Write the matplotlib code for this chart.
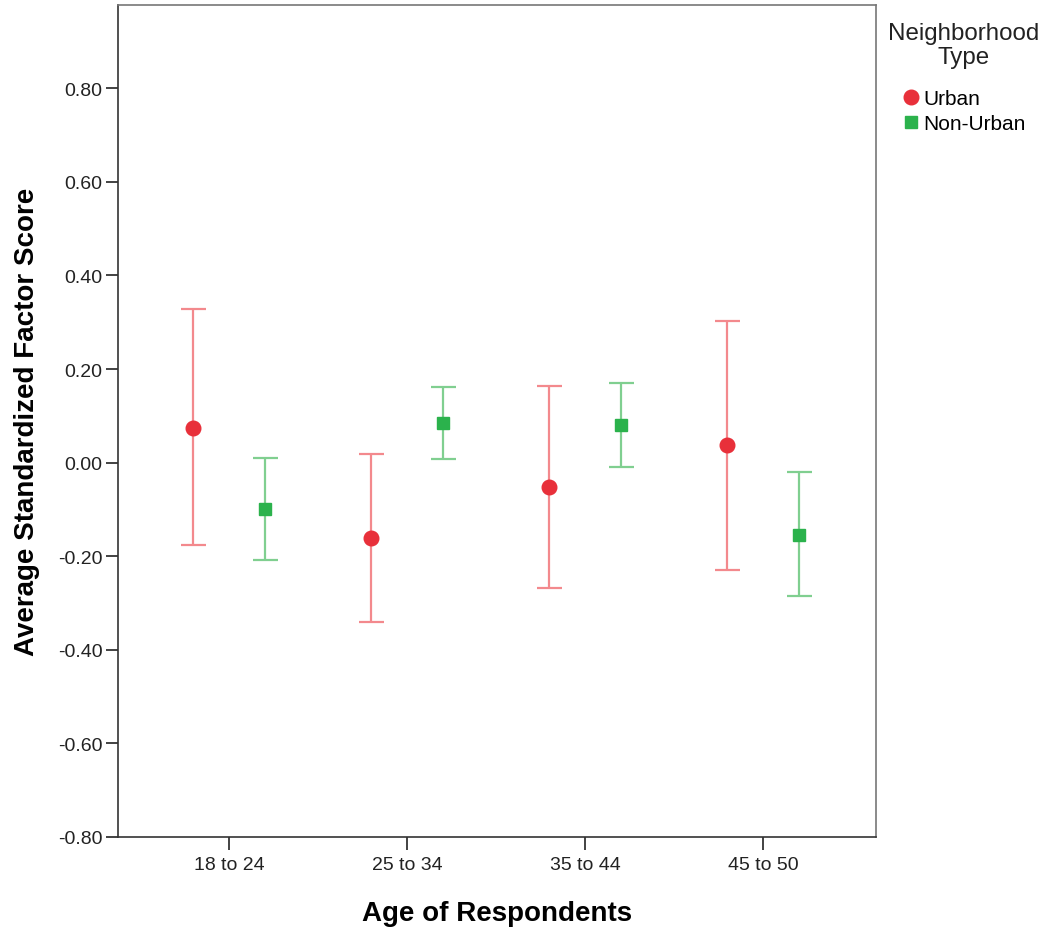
import matplotlib
matplotlib.use("Agg")
import matplotlib.pyplot as plt
import numpy as np
from matplotlib.ticker import FuncFormatter

plt.rcParams["font.family"] = ["Liberation Sans", "DejaVu Sans"]

# data
age_groups = ["18 to 24", "25 to 34", "35 to 44", "45 to 50"]
urban_mean = [0.075, -0.161, -0.051, 0.037]
urban_low = [-0.177, -0.340, -0.268, -0.229]
urban_high = [0.329, 0.018, 0.163, 0.302]
nonurban_mean = [-0.098, 0.084, 0.080, -0.154]
nonurban_low = [-0.207, 0.007, -0.009, -0.284]
nonurban_high = [0.010, 0.161, 0.170, -0.021]

RED = "#E8303A"
RED_BAR = "#F3898D"
GREEN = "#2BB24C"
GREEN_BAR = "#80CF90"

fig = plt.figure(figsize=(10.42, 9.28), dpi=100)
ax = fig.add_axes([0.1132, 0.097, 0.7275, 0.8965])

x = np.arange(len(age_groups))
off = 0.2


def draw_series(xpos, mean, low, high, color, bar_color, marker, ms, label):
    mean = np.array(mean)
    yerr = [mean - np.array(low), np.array(high) - mean]
    ax.errorbar(xpos, mean, yerr=yerr, fmt="none", ecolor=bar_color,
                elinewidth=1.6, capsize=9, capthick=1.6, zorder=2)
    ax.plot(xpos, mean, linestyle="none", marker=marker, ms=ms, color=color,
            markeredgecolor=color, zorder=3, label=label)


draw_series(x - off, urban_mean, urban_low, urban_high, RED, RED_BAR, "o", 10.5, "Urban")
draw_series(x + off, nonurban_mean, nonurban_low, nonurban_high, GREEN, GREEN_BAR, "s", 8, "Non-Urban")

ax.set_xlim(-0.624, 3.635)
ax.set_ylim(-0.80, 0.978)
ax.set_yticks(np.arange(-0.8, 0.81, 0.2))
ax.yaxis.set_major_formatter(FuncFormatter(lambda v, p: f"{round(v, 2) + 0.0:.2f}"))
ax.set_xticks(x)
ax.set_xticklabels(age_groups)
ax.tick_params(axis="both", direction="out", length=9, width=1.2, labelsize=14,
               colors="#222222", pad=2)
ax.tick_params(axis="x", pad=5)

for side in ["left", "bottom"]:
    ax.spines[side].set_color("#333333")
    ax.spines[side].set_linewidth(1.2)
for side in ["top", "right"]:
    ax.spines[side].set_color("#777777")
    ax.spines[side].set_linewidth(1.2)

ax.set_xlabel("Age of Respondents", fontsize=20, fontweight="bold", labelpad=19)
ax.set_ylabel("Average Standardized Factor Score", fontsize=20, fontweight="bold", labelpad=13)

fig.text(0.925, 0.975, "Neighborhood\nType", ha="center", va="top", fontsize=17.4,
         linespacing=1.13, color="#222222")
ax.legend(loc="upper left", bbox_to_anchor=(0.854, 0.914), bbox_transform=fig.transFigure,
          frameon=False, fontsize=15, handletextpad=0.1, labelspacing=0.28,
          handlelength=1.0, borderpad=0)

fig.savefig("out.png", dpi=100)
